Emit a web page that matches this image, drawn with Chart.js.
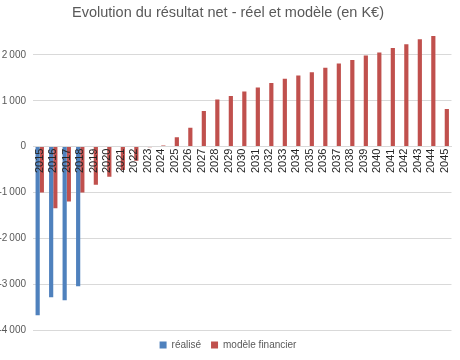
<!DOCTYPE html>
<html>
<head>
<meta charset="utf-8">
<script src="https://cdn.jsdelivr.net/npm/chart.js@4/dist/chart.umd.min.js"></script>
<style>
  html, body { margin: 0; padding: 0; background: #fff; }
  #wrap { width: 460px; height: 360px; }
</style>
</head>
<body>
<div id="wrap"><canvas id="resultatChart" width="460" height="360"></canvas></div>
<script>
var years = ['2015', '2016', '2017', '2018', '2019', '2020', '2021', '2022', '2023', '2024',
    '2025', '2026', '2027', '2028', '2029', '2030', '2031', '2032', '2033', '2034',
    '2035', '2036', '2037', '2038', '2039', '2040', '2041', '2042', '2043', '2044', '2045'];

// réalisé : only the first four years
var realise = [-3680, -3285, -3350, -3045];

// modèle financier
var modele = [-1000, -1345, -1200, -1000, -830, -660, -510, -310, -15, 25,
    205, 410, 775, 1030, 1105, 1200, 1290, 1390, 1480, 1550,
    1620, 1720, 1815, 1890, 1985, 2050, 2150, 2235, 2340, 2410, 820];

var yTicks = [-4000, -3000, -2000, -1000, 0, 1000, 2000];

function formatK(v) {
    var s = Math.abs(v).toString();
    if (s.length > 3) s = s.slice(0, s.length - 3) + '\u202f' + s.slice(-3);
    return (v < 0 ? '-' : '') + s;
}

var ctx = document.getElementById('resultatChart').getContext('2d');
var resultatChart = new Chart(ctx, {
    type: 'bar',
    data: {
        labels: years,
        datasets: [{
            label: 'réalisé',
            data: realise,
            backgroundColor: '#4F81BD',
            borderWidth: 0
        }, {
            label: 'modèle financier',
            data: modele,
            backgroundColor: '#C0504D',
            borderWidth: 0
        }]
    },
    options: {
        responsive: false,
        animation: false,
        layout: { padding: { left: 0, right: 4, top: 0, bottom: 0 } },
        datasets: {
            bar: { categoryPercentage: 0.62, barPercentage: 1.0 }
        },
        scales: {
            x: {
                position: { y: 0 },
                grid: { display: false, drawTicks: false },
                border: { display: true, color: '#d9d9d9', width: 1 },
                ticks: {
                    z: 1,
                    autoSkip: false,
                    minRotation: 90,
                    maxRotation: 90,
                    padding: 2,
                    color: '#262626',
                    font: { family: 'Liberation Sans', size: 11 }
                },
                afterFit: function(scale) { scale.height = 0; }
            },
            y: {
                min: -4000,
                max: 2600,
                afterBuildTicks: function(scale) {
                    scale.ticks = yTicks.map(function(v) { return { value: v }; });
                },
                grid: { color: '#d9d9d9', drawTicks: false },
                border: { display: false },
                ticks: {
                    padding: 7,
                    color: '#595959',
                    font: { family: 'Liberation Sans', size: 10 },
                    callback: function(v) { return formatK(v); }
                },
                afterFit: function(scale) { scale.width = 33; }
            }
        },
        plugins: {
            title: {
                display: true,
                text: 'Evolution du résultat net - réel et modèle (en K€)',
                color: '#595959',
                font: { family: 'Liberation Sans', size: 14.5, weight: 'normal' },
                padding: { top: 4, bottom: 6 }
            },
            legend: {
                position: 'bottom',
                labels: {
                    boxWidth: 7,
                    boxHeight: 7,
                    padding: 10,
                    color: '#595959',
                    font: { family: 'Liberation Sans', size: 10 }
                }
            },
            tooltip: { enabled: false }
        }
    }
});
</script>
</body>
</html>
